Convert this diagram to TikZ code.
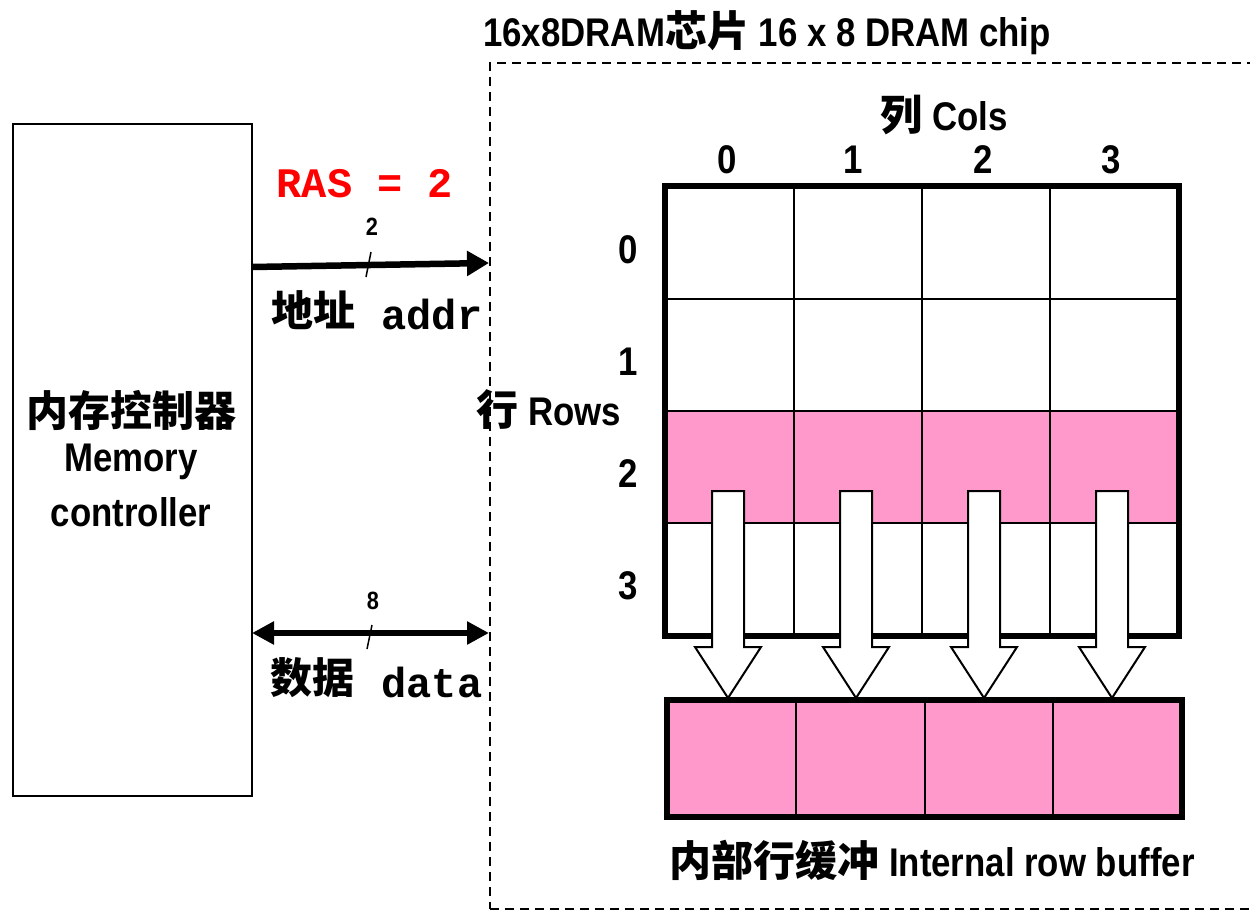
\documentclass[tikz,border=0pt]{standalone}
\usepackage{fontspec}
\setmainfont{Liberation Sans}[FakeStretch=0.87]
\newfontfamily\cjk{Noto Sans CJK SC}[Scale=1.05]
\newfontfamily\monof{Liberation Mono}
\usetikzlibrary{arrows.meta}
\definecolor{rowpink}{HTML}{FF99CC}
\tikzset{
  lbl/.style={font=\bfseries\fontsize{40}{44}\selectfont, inner sep=0},
  small/.style={font=\bfseries\fontsize{25}{28}\selectfont, inner sep=0},
  codetxt/.style={font=\monof\bfseries\fontsize{42}{46}\selectfont, inner sep=0},
  cell/.style={draw, line width=2, minimum width=128, minimum height=112, inner sep=0, anchor=north west},
  blockarrow/.style={draw, line width=2, fill=white, line join=miter},
  bus/.style={line width=6.5},
}
\newcommand{\blockarr}[1]{%
  \draw[blockarrow] (#1-16,491) -- (#1+16,491) -- (#1+16,647) -- (#1+33,647) -- (#1,698) -- (#1-33,647) -- (#1-16,647) -- cycle;}
\begin{document}
\begin{tikzpicture}[x=1pt,y=-1pt]
\useasboundingbox (0,0) rectangle (1250,910);
\fill[white] (0,0) rectangle (1250,910);
% memory controller
\node[draw, line width=1.8, minimum width=239, minimum height=672, anchor=north west, inner sep=0] (mc) at (12,123) {};
\node[lbl] (mccn) at (131,410) {\cjk\bfseries 内存控制器};
\node[lbl] (mcen1) at (131,462) {Memory};
\node[lbl] (mcen2) at (131,512) {controller};
% chip dashed frame
\node[draw, dash pattern=on 9pt off 6pt, line width=1.8, minimum width=800, minimum height=846, anchor=north west, inner sep=0] (chip) at (489,62) {};
\node[lbl] (title) at (767,33) {16x8DRAM{\cjk\bfseries 芯片} 16 x 8 DRAM chip};
% grid
\foreach \r in {0,1,2,3}{
  \foreach \c in {0,1,2,3}{
    \pgfmathsetmacro{\xx}{665+128*\c}
    \pgfmathsetmacro{\yy}{186+112*\r}
    \ifnum\r=2
      \node[cell, fill=rowpink] (g\r\c) at (\xx,\yy) {};
    \else
      \node[cell] (g\r\c) at (\xx,\yy) {};
    \fi
  }
}
\draw[line width=6] (g00.north west) rectangle (g33.south east);
% labels
\node[lbl] (colhdr) at (944,115) {{\cjk\bfseries 列} Cols};
\foreach \c/\x in {0/727,1/853,2/983,3/1111}{
  \node[lbl] (ch\c) at (\x,160) {\c};
}
\foreach \r/\y in {0/250,1/362,2/474,3/586}{
  \node[lbl] (rh\r) at (628,\y) {\r};
}
\node[lbl] (rows) at (549,410) {{\cjk\bfseries 行} Rows};
% block arrows
\blockarr{728}
\blockarr{856}
\blockarr{984}
\blockarr{1112}
% row buffer
\foreach \c in {0,1,2,3}{
  \pgfmathsetmacro{\xx}{667+128.25*\c}
  \node[draw, line width=2, fill=rowpink, minimum width=128.25, minimum height=115, inner sep=0, anchor=north west] (b\c) at (\xx,700) {};
}
\draw[line width=6] (b0.north west) rectangle (b3.south east);
\node[lbl] (buftext) at (932,860) {{\cjk\bfseries 内部行缓冲} Internal row buffer};
% address bus
\coordinate (a0) at (252,267);
\coordinate (a1) at (489,263);
\draw[bus, -{Triangle[length=22,width=24]}] (a0) -- (a1);
\coordinate (s0) at (366,277);
\coordinate (s1) at (371,252);
\draw[line width=1.5] (s0) -- (s1);
\node[small] (n2) at (372,227) {2};
\node[codetxt, text=red] (ras) at (365,184) {RAS = 2};
\node[lbl, font=\cjk\bfseries\fontsize{40}{44}\selectfont] (addrcn) at (313,310) {地址};
\node[codetxt] (addr) at (432,314) {addr};
% data bus
\coordinate (d0) at (252,633);
\coordinate (d1) at (489,633);
\draw[line width=5.5, {Triangle[length=22,width=22]}-{Triangle[length=22,width=22]}] (d0) -- (d1);
\coordinate (t0) at (367,649);
\coordinate (t1) at (372,625);
\draw[line width=1.5] (t0) -- (t1);
\node[small] (n8) at (373,601) {8};
\node[lbl, font=\cjk\bfseries\fontsize{40}{44}\selectfont] (datacn) at (312,678) {数据};
\node[codetxt] (data) at (432,682) {data};
\end{tikzpicture}
\end{document}
